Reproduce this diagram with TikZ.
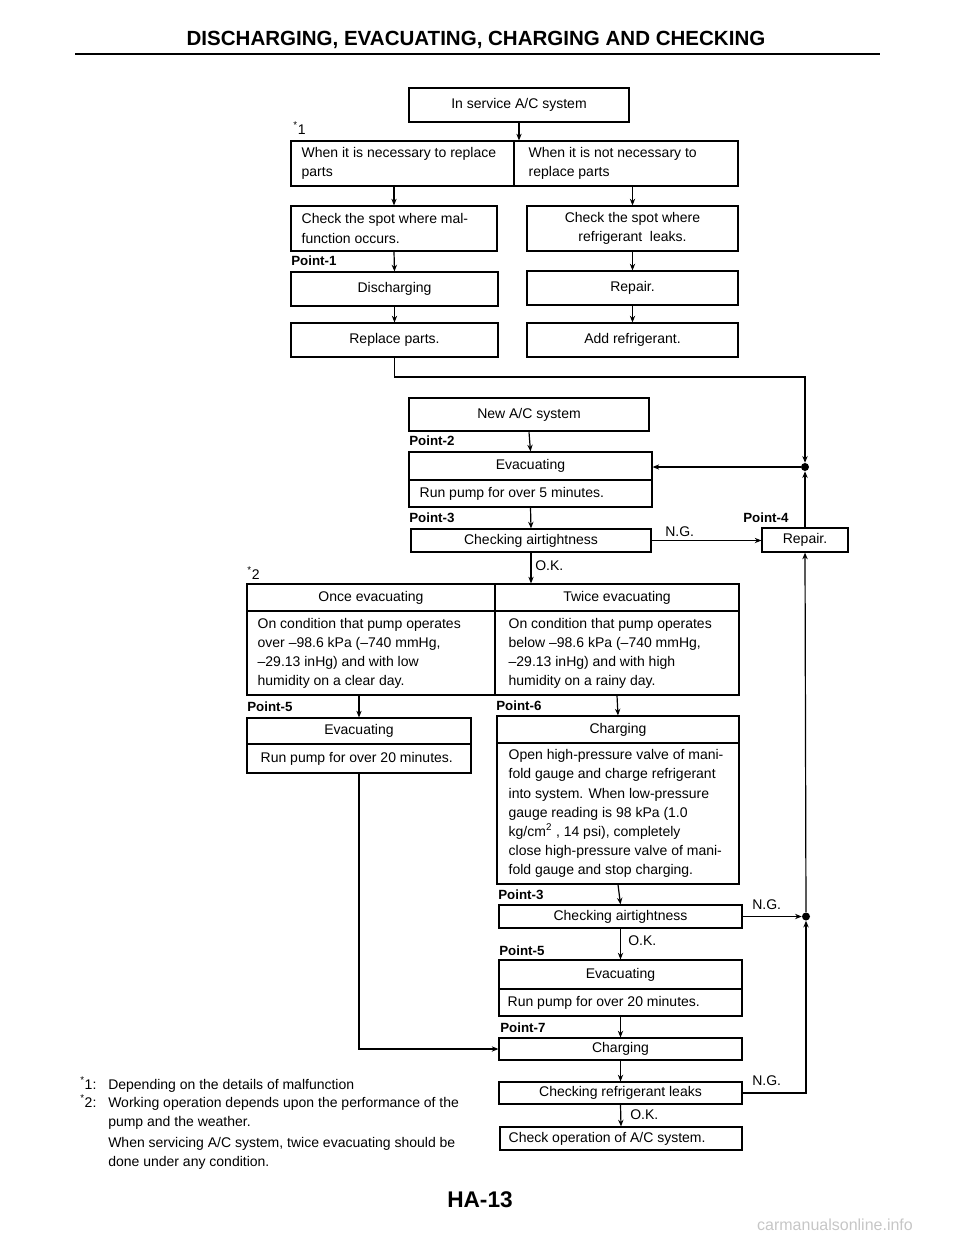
\documentclass[tikz,border=0pt]{standalone}
\usepackage{fontspec}
\setmainfont{Liberation Sans}
\usetikzlibrary{arrows.meta,calc}
\newcommand\bodyf{\fontsize{10.5}{14.3}\selectfont}
\newcommand\pointf{\fontsize{10}{12}\bfseries\selectfont}
\newcommand\BX[7]{\node[#6, minimum width={(#4-#2)*0.75pt}, minimum height={(#5-#3)*0.75pt}] (#1) at ({(#2+#4)/2},{(#3+#5)/2}) {#7};}
\tikzset{
  box/.style={draw, line width=0.9pt, inner sep=0pt, font=\bodyf},
  thickbox/.style={box, line width=1.9pt},
  txt/.style={inner sep=0pt, align=left, anchor=west, font=\bodyf},
  ptl/.style={inner sep=0pt, anchor=west, font=\pointf},
  lbl/.style={inner sep=0pt, anchor=west, font=\bodyf},
  fn/.style={inner sep=0pt, anchor=base west, font=\bodyf},
  arr/.style={line width=0.9pt, -{Stealth[length=5pt,width=4pt]}},
  ln/.style={line width=0.9pt},
  junc/.style={circle, fill, inner sep=0pt, minimum size=6pt}
}
\begin{document}
\begin{tikzpicture}[x=0.75pt,y=-0.75pt]
\useasboundingbox (0,0) rectangle (960,1242);
% title
\node[font=\fontsize{15.4}{18}\bfseries\selectfont] (title) at (476,40) {DISCHARGING, EVACUATING, CHARGING AND CHECKING};
\draw[line width=2.2pt] (75,54) -- (880,54);

% top part
\BX{svc}{409}{88}{629}{122}{thickbox}{In service A/C system}
\node[lbl] (s1) at (293,128) {\textsuperscript{*}1};
\BX{nec}{291}{141}{514}{186}{box}{}
\node[txt] (nect) at ([xshift=8.25pt]nec.west) {When it is necessary to replace\\parts};
\BX{notnec}{514}{141}{738}{186}{box}{}
\node[txt] (notnect) at ([xshift=11.25pt]notnec.west) {When it is not necessary to\\replace parts};
\draw[arr] (svc.south) -- (svc.south |- nec.north);

\BX{chk1}{291}{206}{497}{251}{box}{}
\node[txt] (chk1t) at ([xshift=8.25pt]chk1.west) {Check the spot where mal-\\function occurs.};
\BX{chk2}{527}{206}{738}{251}{box,align=center}{Check the spot where\\refrigerant\ \ leaks.}
\draw[arr] (chk1.north |- nec.south) -- (chk1.north);
\draw[arr] (chk2.north |- notnec.south) -- (chk2.north);

\node[ptl] (p1) at (291,261) {Point-1};
\BX{dis}{291}{272}{498}{306}{box}{Discharging}
\BX{rep1}{527}{271}{738}{305}{box}{Repair.}
\draw[arr] (chk1.south) -- (dis.north);
\draw[arr] (chk2.south) -- (rep1.north);

\BX{rp}{291}{323}{498}{357}{box}{Replace parts.}
\BX{add}{527}{323}{738}{357}{box}{Add refrigerant.}
\draw[arr] (dis.south) -- (rp.north);
\draw[arr] (rep1.south) -- (add.north);

% new system
\BX{newac}{409}{398}{649}{431}{thickbox}{New A/C system}
\node[ptl] (p2) at (409,441) {Point-2};
\BX{ev1t}{409}{452}{652}{480}{box}{Evacuating}
\BX{ev1b}{409}{480}{652}{507}{box}{}
\node[txt] (ev1bt) at ([xshift=8.25pt]ev1b.west) {Run pump for over 5 minutes.};
\draw[arr] (newac.south) -- (ev1t.north);

\node[junc] (d1) at (805,467) {};
\coordinate (t1) at (805,377);
\draw[arr] (rp.south) |- (t1) -- (d1);
\draw[arr] (d1) -- (d1 -| ev1t.east);

\node[ptl] (p3a) at (409,518) {Point-3};
\BX{cat1}{411}{529}{651}{552}{box}{Checking airtightness}
\draw[arr] (ev1b.south) -- (cat1.north);
\node[ptl] (p4) at (743,518) {Point-4};
\BX{rep2}{762}{528}{848}{552}{box}{Repair.}
\draw[arr] (cat1.east) -- (cat1.east -| rep2.west);
\node[lbl] (ng1) at (665,532) {N.G.};
\draw[arr] (rep2.north) -- (d1);

% once / twice
\node[lbl] (s2) at (247,573) {\textsuperscript{*}2};
\BX{oh}{247}{584}{495}{611}{box}{Once evacuating}
\BX{th}{495}{584}{739}{611}{box}{Twice evacuating}
\BX{ob}{247}{611}{495}{695}{box}{}
\node[txt] (obt) at ([xshift=8.25pt]ob.west) {On condition that pump operates\\over --98.6 kPa (--740 mmHg,\\--29.13 inHg) and with low\\humidity on a clear day.};
\BX{tb}{495}{611}{739}{695}{box}{}
\node[txt] (tbt) at ([xshift=10.5pt]tb.west) {On condition that pump operates\\below --98.6 kPa (--740 mmHg,\\--29.13 inHg) and with high\\humidity on a rainy day.};
\draw[arr] (cat1.south) -- (cat1.south |- th.north);
\node[lbl] (ok1) at (535,566) {O.K.};

% left branch
\node[ptl] (p5a) at (247,707) {Point-5};
\BX{ev2t}{247}{718}{471}{744}{box}{Evacuating}
\BX{ev2b}{247}{744}{471}{773}{box}{}
\node[txt] (ev2bt) at ([xshift=10.5pt]ev2b.west) {Run pump for over 20 minutes.};
\draw[arr] (ev2t.north |- ob.south) -- (ev2t.north);

% right branch
\node[ptl] (p6) at (496,706) {Point-6};
\BX{c1t}{497}{716}{739}{743}{box}{Charging}
\BX{c1b}{497}{743}{739}{884}{box}{}
\node[txt] (c1bt) at ([xshift=9pt]c1b.west) {Open high-pressure valve of mani-\\fold gauge and charge refrigerant\\into system. When low-pressure\\gauge reading is 98 kPa (1.0\\kg/cm\textsuperscript{2} , 14 psi), completely\\close high-pressure valve of mani-\\fold gauge and stop charging.};
\draw[arr] (tb.south) -- (c1t.north);

\node[ptl] (p3b) at (498,895) {Point-3};
\BX{cat2}{499}{905}{742}{928}{box}{Checking airtightness}
\draw[arr] (c1b.south) -- (cat2.north);
\node[junc] (d2) at (806,916.5) {};
\draw[arr] (cat2.east) -- (d2);
\node[lbl] (ng2) at (752,905) {N.G.};

\node[ptl] (p5b) at (499,951) {Point-5};
\BX{ev3t}{499}{960}{742}{989}{box}{Evacuating}
\BX{ev3b}{499}{989}{742}{1016}{box}{}
\node[txt] (ev3bt) at ([xshift=6.75pt]ev3b.west) {Run pump for over 20 minutes.};
\draw[arr] (cat2.south) -- (ev3t.north);
\node[lbl] (ok2) at (628,941) {O.K.};

\node[ptl] (p7) at (500,1028) {Point-7};
\BX{c2}{499}{1038}{742}{1060}{box}{Charging}
\draw[arr] (ev3b.south) -- (c2.north);
\draw[arr] (ev2b.south) |- (c2.west);

\BX{crl}{499}{1082}{742}{1104}{box}{Checking refrigerant leaks}
\draw[arr] (c2.south) -- (crl.north);
\draw[arr] (crl.east) -| (d2);
\node[lbl] (ng3) at (752,1081) {N.G.};
\draw[arr] (d2) -- (rep2.south);

\BX{cop}{500}{1127}{742}{1150}{box}{}
\node[txt] (copt) at ([xshift=6.75pt]cop.west) {Check operation of A/C system.};
\draw[arr] (crl.south) -- (cop.north);
\node[lbl] (ok3) at (630,1115) {O.K.};

% footnotes
\node[fn] (f1a) at (80,1089) {\textsuperscript{*}1:};
\node[fn] (f1b) at (108,1089) {Depending on the details of malfunction};
\node[fn] (f2a) at (80,1107) {\textsuperscript{*}2:};
\node[fn] (f2b) at (108,1107) {Working operation depends upon the performance of the};
\node[fn] (f2c) at (108,1126) {pump and the weather.};
\node[fn] (f3a) at (108,1147) {When servicing A/C system, twice evacuating should be};
\node[fn] (f3b) at (108,1166) {done under any condition.};

\node[font=\fontsize{17}{20}\bfseries\selectfont] (page) at (480,1200) {HA-13};
\node[font=\fontsize{12}{14}\selectfont, text=gray!45] (wm) at (835,1225) {carmanualsonline.info};
\end{tikzpicture}
\end{document}
